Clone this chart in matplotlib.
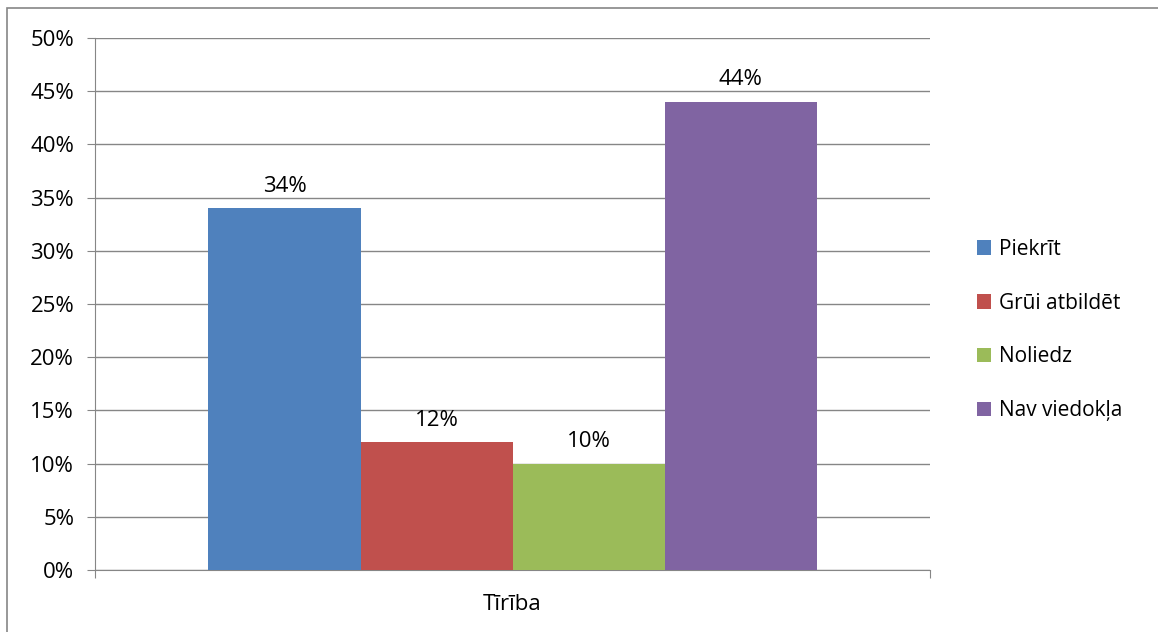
import matplotlib
matplotlib.use("Agg")
import matplotlib.pyplot as plt
from matplotlib.patches import Rectangle
from matplotlib.ticker import FuncFormatter, MultipleLocator

category = "Tīrība"
series = ["Piekrīt", "Grūi atbildēt", "Noliedz", "Nav viedokļa"]
values = [34, 12, 10, 44]
colors = ["#4F81BD", "#C0504D", "#9BBB59", "#8064A2"]

plt.rcParams['font.family'] = ['Open Sans', 'DejaVu Sans']

fig = plt.figure(figsize=(11.58, 6.32), dpi=100)
ax = fig.add_axes([95/1158, 1-570/632, 835/1158, 532/632])

w = 152/835
for i, (s, v, c) in enumerate(zip(series, values, colors)):
    x = (i - 1.5) * w
    ax.bar(x, v, width=w, color=c, label=s, zorder=3)
    ax.text(x, v + 1.1, f"{v}%", ha='center', va='bottom', fontsize=16, zorder=4)

ax.set_xlim(-0.5, 0.5)
ax.set_ylim(0, 50)
ax.yaxis.set_major_locator(MultipleLocator(5))
ax.yaxis.set_major_formatter(FuncFormatter(lambda v, p: f"{int(v)}%"))
ax.grid(axis='y', color='#868686', linewidth=1, zorder=0)
ax.set_xticks([-0.5, 0.5])
ax.set_xticklabels(["", ""])
ax.tick_params(axis='x', length=6, color='#868686')
ax.tick_params(axis='y', length=6, color='#868686', labelsize=16, pad=9)
ax.text(0.5, -0.045, category, transform=ax.transAxes, ha='center', va='top', fontsize=16)
for side in ['top', 'right']:
    ax.spines[side].set_visible(False)
for side in ['left', 'bottom']:
    ax.spines[side].set_color('#868686')

leg = ax.legend(loc='center left', bbox_to_anchor=(958/1158, 1-330/632), bbox_transform=fig.transFigure,
                frameon=False, fontsize=15, handlelength=0.7, handleheight=0.7,
                labelspacing=1.58, handletextpad=0.35)

fig.patches.append(Rectangle((7/1158, -0.05), 1.1, 1 + 0.05 - 8/632, transform=fig.transFigure,
                             fill=False, edgecolor='#868686', linewidth=1.2))

fig.savefig("out.png", dpi=100)
